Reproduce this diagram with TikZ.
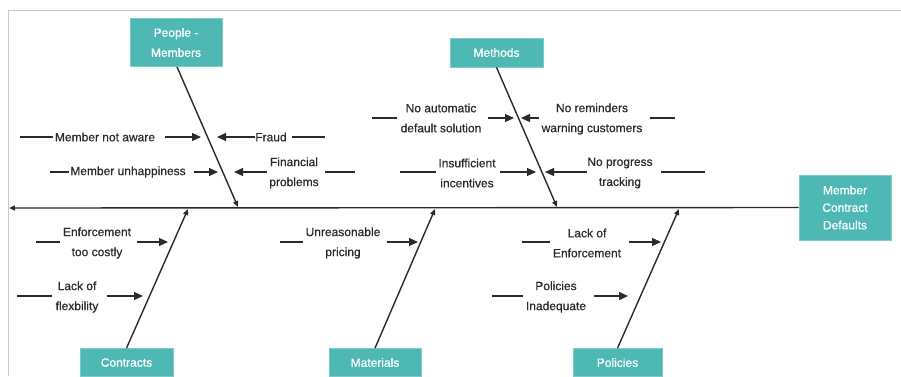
\documentclass[tikz,border=0pt]{standalone}
\usepackage{fontspec}
\setmainfont{Liberation Sans}
\newfontfamily\labelfont[FakeBold=0.6]{Liberation Sans}
\usetikzlibrary{arrows.meta}
\definecolor{boxteal}{HTML}{4DB8B4}
\definecolor{boxedge}{HTML}{7CCBC8}
\definecolor{ink}{HTML}{2A2A2A}
\definecolor{frame}{HTML}{C8C8C8}
\tikzset{
  catbox/.style={fill=boxteal, draw=boxedge, line width=0.8pt, text=white, align=center, font=\labelfont\fontsize{12}{20}\selectfont, inner sep=0pt},
  cause/.style={text=ink, align=center, font=\labelfont\fontsize{12}{20}\selectfont, inner sep=0pt},
  bone/.style={draw=ink, line width=1.4pt, -{Triangle[length=6pt,width=5pt]}},
  spine/.style={draw=ink, line width=1.4pt, -{Triangle[length=6pt,width=5pt]}},
  tail/.style={draw=ink, line width=1.2pt},
  arr/.style={draw=ink, line width=1.2pt, -{Triangle[length=9pt,width=8pt]}}
}
\begin{document}
\begin{tikzpicture}[x=1pt,y=-1pt]
\useasboundingbox (0,0) rectangle (901,376);
% outer frame (top and left edges)
\draw[frame, line width=0.8pt] (901,10.5) -- (8.5,10.5) -- (8.5,376);

% effect and category boxes
\node[catbox, minimum width=92pt, minimum height=65pt, font=\labelfont\fontsize{12}{17.5}\selectfont] (effect) at (845,207.5) {Member\\Contract\\Defaults};
\node[catbox, minimum width=92pt, minimum height=48pt] (people) at (176,42.5) {People -\\Members};
\node[catbox, minimum width=93pt, minimum height=29pt] (methods) at (496.5,52.5) {Methods};
\node[catbox, minimum width=93pt, minimum height=28pt] (contracts) at (126.5,362.5) {Contracts};
\node[catbox, minimum width=92pt, minimum height=28pt] (materials) at (375,362.5) {Materials};
\node[catbox, minimum width=89pt, minimum height=28pt] (policies) at (617.5,362.5) {Policies};

% spine
\coordinate (head) at (9,208);
\draw[spine] (effect.west) -- (head);

% bones into the spine
\coordinate (pJ) at (238,207);
\coordinate (mJ) at (557,207);
\coordinate (cJ) at (188,209);
\coordinate (aJ) at (435,209);
\coordinate (oJ) at (679,209);
\draw[bone] (people.south) ++(1,0) -- (pJ);
\draw[bone] (methods.south) -- (mJ);
\draw[bone] (contracts.north) -- (cJ);
\draw[bone] (materials.north) -- (aJ);
\draw[bone] (policies.north) -- (oJ);

% People - Members causes
\node[cause] (c1) at (105,137) {Member not aware};
\coordinate (c1t) at (20,137); \coordinate (c1h) at (201,137);
\draw[tail] (c1t) -- ([xshift=-2pt]c1.west);
\draw[arr] ([xshift=10pt]c1.east) -- (c1h);

\node[cause] (c2) at (271,137) {Fraud};
\coordinate (c2t) at (325,137); \coordinate (c2h) at (217,137);
\draw[tail] ([xshift=5pt]c2.east) -- (c2t);
\draw[arr] (c2.west) -- (c2h);

\node[cause] (c3) at (128,172) {Member unhappiness};
\coordinate (c3t) at (50,172); \coordinate (c3h) at (218,172);
\draw[tail] (c3t) -- ([xshift=-1pt]c3.west);
\draw[arr] ([xshift=8pt]c3.east) -- (c3h);

\node[cause] (c4) at (294,173) {Financial\\problems};
\coordinate (c4t) at (355,172); \coordinate (c4h) at (234,172);
\draw[tail] ([xshift=6pt]c4.east |- c4t) -- (c4t);
\draw[arr] ([xshift=-2pt]c4.west |- c4h) -- (c4h);

% Methods causes
\node[cause] (c5) at (441,118) {No automatic\\default solution};
\coordinate (c5t) at (372,118); \coordinate (c5h) at (514,118);
\draw[tail] (c5t) -- ([xshift=-3pt]c5.west |- c5t);
\draw[arr] ([xshift=6pt]c5.east |- c5h) -- (c5h);

\node[cause] (c6) at (592,119) {No reminders\\warning customers};
\coordinate (c6t) at (675,118); \coordinate (c6h) at (521,118);
\draw[tail] ([xshift=7pt]c6.east |- c6t) -- (c6t);
\draw[arr] ([xshift=-2pt]c6.west |- c6h) -- (c6h);

\node[cause] (c7) at (467,173) {Insufficient\\incentives};
\coordinate (c7t) at (400,172); \coordinate (c7h) at (536,172);
\draw[tail] (c7t) -- ([xshift=-2pt]c7.west |- c7t);
\draw[arr] ([xshift=4pt]c7.east |- c7h) -- (c7h);

\node[cause] (c8) at (620,173) {No progress\\tracking};
\coordinate (c8t) at (705,172); \coordinate (c8h) at (545,172);
\draw[tail] ([xshift=8pt]c8.east |- c8t) -- (c8t);
\draw[arr] (c8.west |- c8h) -- (c8h);

% Contracts causes
\node[cause] (c9) at (97,243) {Enforcement\\too costly};
\coordinate (c9t) at (36,242); \coordinate (c9h) at (168,242);
\draw[tail] (c9t) -- ([xshift=-3pt]c9.west |- c9t);
\draw[arr] ([xshift=6pt]c9.east |- c9h) -- (c9h);

\node[cause] (c10) at (77,297) {Lack of\\flexbility};
\coordinate (c10t) at (17,296); \coordinate (c10h) at (143,296);
\draw[tail] (c10t) -- ([xshift=-3pt]c10.west |- c10t);
\draw[arr] ([xshift=8pt]c10.east |- c10h) -- (c10h);

% Materials cause
\node[cause] (c11) at (343,243) {Unreasonable\\pricing};
\coordinate (c11t) at (280,242); \coordinate (c11h) at (418,242);
\draw[tail] (c11t) -- ([xshift=-2pt]c11.west |- c11t);
\draw[arr] ([xshift=6pt]c11.east |- c11h) -- (c11h);

% Policies causes
\node[cause] (c12) at (587,243) {Lack of\\Enforcement};
\coordinate (c12t) at (522,242); \coordinate (c12h) at (661,242);
\draw[tail] (c12t) -- ([xshift=-3pt]c12.west |- c12t);
\draw[arr] ([xshift=8pt]c12.east |- c12h) -- (c12h);

\node[cause] (c13) at (556,297) {Policies\\Inadequate};
\coordinate (c13t) at (492,296); \coordinate (c13h) at (628,296);
\draw[tail] (c13t) -- ([xshift=-3pt]c13.west |- c13t);
\draw[arr] ([xshift=8pt]c13.east |- c13h) -- (c13h);
\end{tikzpicture}
\end{document}
